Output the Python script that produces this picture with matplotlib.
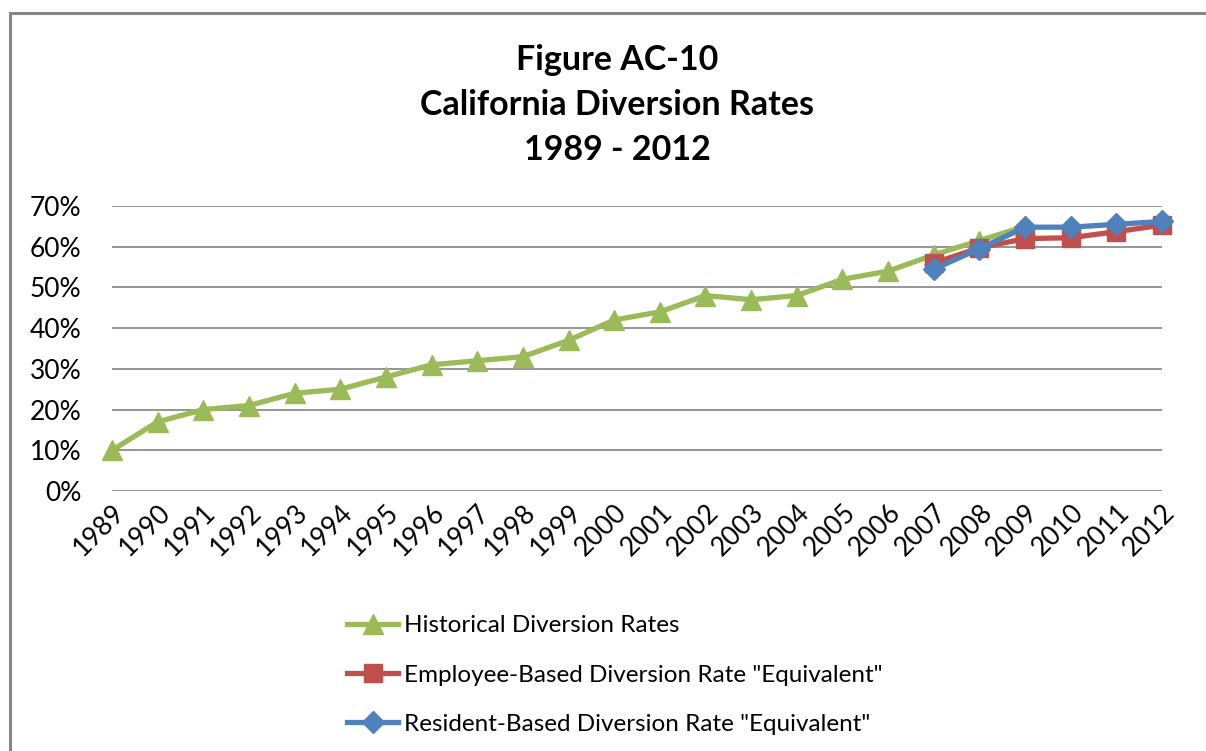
import matplotlib.pyplot as plt
from matplotlib.patches import Rectangle
from matplotlib.ticker import PercentFormatter

plt.rcParams['font.family'] = ['Lato', 'DejaVu Sans']

years = list(range(1989, 2013))
hist_years = list(range(1989, 2010))
hist_rates = [10, 17, 20, 21, 24, 25, 28, 31, 32, 33, 37, 42, 44, 48, 47, 48,
              52, 54, 58, 61.5, 65]
equiv_years = list(range(2007, 2013))
employee_rates = [56, 59.7, 62, 62.2, 63.7, 65.3]
resident_rates = [54.5, 59.5, 64.8, 64.8, 65.5, 66.2]

green = '#9BBB59'
red = '#C0504D'
blue = '#4F81BD'

fig = plt.figure(figsize=(12.06, 7.51), dpi=100)
ax = fig.add_axes([0.0929, 0.3462, 0.8706, 0.3795])

l1, = ax.plot(hist_years, hist_rates, color=green, lw=3.8, marker='^', ms=14,
              label='Historical Diversion Rates', clip_on=False, zorder=3)
l2, = ax.plot(equiv_years, employee_rates, color=red, lw=3.8, marker='s', ms=13,
              label='Employee-Based Diversion Rate "Equivalent"', clip_on=False, zorder=4)
l3, = ax.plot(equiv_years, resident_rates, color=blue, lw=3.8, marker='D', ms=11,
              label='Resident-Based Diversion Rate "Equivalent"', clip_on=False, zorder=5)

ax.set_xlim(1989, 2012)
ax.set_ylim(0, 70)
ax.set_yticks(range(0, 71, 10))
ax.yaxis.set_major_formatter(PercentFormatter(decimals=0))
ax.set_xticks(years)
ax.set_xticklabels([str(y) for y in years], rotation=45, ha='right', va='top',
                   rotation_mode='anchor')
ax.tick_params(axis='both', length=0, labelsize=19)
ax.tick_params(axis='y', pad=22)
ax.tick_params(axis='x', pad=6)
ax.grid(axis='y', color='#8c8c8c', lw=1.3)
ax.set_axisbelow(True)
for s in ax.spines.values():
    s.set_visible(False)

fig.text(0.512, 0.942, 'Figure AC-10\nCalifornia Diversion Rates\n1989 - 2012',
         ha='center', va='top', fontsize=24.5, fontweight='bold', linespacing=1.5)

fig.legend(handles=[l1, l2, l3], loc='upper left', bbox_to_anchor=(0.288, 0.181),
           frameon=False, fontsize=17.5, handlelength=2.1, handletextpad=0.25,
           labelspacing=1.17, borderpad=0, borderaxespad=0)

fig.patches.append(Rectangle((10 / 1206, -0.1), 1.2, (751 - 13) / 751 + 0.1,
                             transform=fig.transFigure, fill=False,
                             edgecolor='#868686', lw=2.2))

fig.savefig('out.png', dpi=100, facecolor='white')
